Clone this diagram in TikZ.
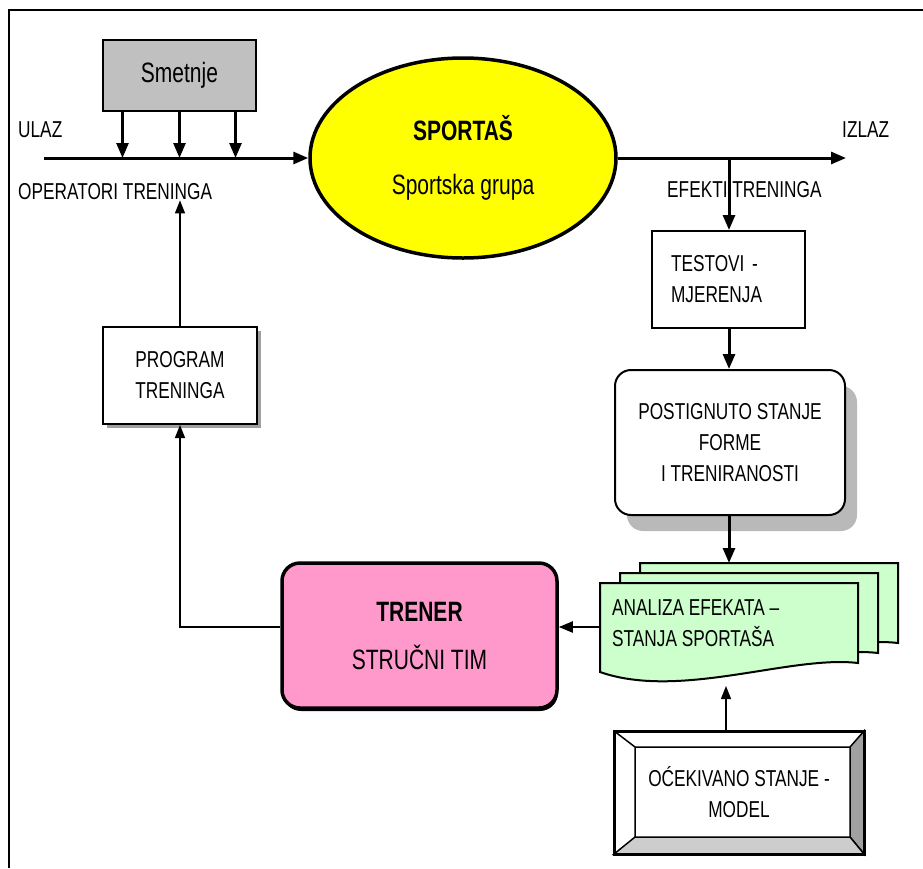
\documentclass[tikz,border=0pt]{standalone}
\usepackage{fontspec}
\setmainfont[FakeStretch=0.75]{Liberation Sans}
\usepackage{tikz}
\usetikzlibrary{positioning}
\usetikzlibrary{arrows.meta}
\usetikzlibrary{shapes.geometric}
\usetikzlibrary{shadows}
\definecolor{athleteyellow}{RGB}{255,255,0}
\definecolor{coachpink}{RGB}{255,153,204}
\definecolor{sheetgreen}{RGB}{204,255,204}
\definecolor{noisegray}{RGB}{192,192,192}
\definecolor{shadowgray}{RGB}{185,185,185}
\definecolor{bevelgray}{RGB}{160,160,160}
\definecolor{bevellight}{RGB}{205,205,205}
\newcommand{\bigtext}{\fontsize{28}{34}\selectfont}
\tikzset{
  plainbox/.style={rectangle,draw,line width=2pt,fill=white,
                   align=center,inner sep=0pt},
  noisebox/.style={plainbox,fill=noisegray,font=\bigtext,
                   minimum width=153pt,minimum height=71pt},
  athlete/.style={ellipse,draw,line width=3.5pt,fill=athleteyellow,
                  align=center,font=\bigtext,inner sep=0pt,
                  minimum width=306pt,minimum height=200pt},
  statebox/.style={plainbox,rounded corners=16pt,
                   minimum width=230pt,minimum height=145pt,
                   drop shadow={shadow xshift=12pt,shadow yshift=-16pt,
                                fill=shadowgray,opacity=1}},
  coachbox/.style={plainbox,rounded corners=18pt,line width=3.5pt,
                   fill=coachpink,font=\bigtext,
                   minimum width=275pt,minimum height=145pt,
                   drop shadow={shadow xshift=1pt,shadow yshift=-3pt,
                                fill=black,opacity=1}},
  progbox/.style={plainbox,minimum width=154pt,minimum height=97pt,
                  drop shadow={shadow xshift=4pt,shadow yshift=-4pt,
                               fill=bevelgray,opacity=1}},
  bevelbox/.style={plainbox,line width=2.5pt,
                   minimum width=248pt,minimum height=121pt},
  sheet/.style={draw,line width=2pt,fill=sheetgreen},
  tag/.style={anchor=west,inner sep=0pt,align=left},
  flow/.style={line width=3pt,-{Triangle[length=15pt,width=12pt]}},
  dropflow/.style={line width=2.5pt,-{Triangle[length=15pt,width=12pt]}},
  midflow/.style={line width=2pt,-{Triangle[length=14pt,width=11pt]}},
  thinflow/.style={line width=1.3pt,-{Triangle[length=13pt,width=10pt]}},
}
\begin{document}
\begin{tikzpicture}[x=1pt,y=-1pt,font=\fontsize{23}{31}\selectfont]
  \useasboundingbox (0,0) rectangle (923,868);
  \draw[line width=2pt] (9,868) -- (9,10) -- (923,10);

  \node[noisebox] (smet)  at (179.5,75.5) {Smetnje};
  \node[athlete]  (sport) at (463,158) {\bfseries SPORTAŠ\\[20pt]Sportska grupa};
  \coordinate (inL)  at (44,158);
  \coordinate (outR) at (846,158);
  \coordinate (efx)  at (729,158);

  \node[tag] (ulaz)  at (18,130)  {ULAZ};
  \node[tag] (oper)  at (18,192)  {OPERATORI TRENINGA};
  \node[tag] (izlaz) at (842,130) {IZLAZ};
  \node[tag] (efekt) at (667,190) {EFEKTI TRENINGA};

  \node[plainbox,text width=115pt,inner xsep=19pt,align=left,
        minimum height=97pt] (test) at (728.5,279.5) {TESTOVI -\\MJERENJA};
  \node[statebox] (post) at (730,442.5)
      {POSTIGNUTO STANJE\\FORME\\I TRENIRANOSTI};

  % stacked analysis sheets
  \foreach \s in {2,1,0}
    \draw[sheet,shift={(20*\s,-10*\s)}]
      (600,583) -- (858,583) -- (858,663)
      .. controls (790,655) and (680,700) .. (600,672) -- cycle;
  \node[tag] (anal) at (612,623) {ANALIZA EFEKATA –\\STANJA SPORTAŠA};
  \coordinate (analN) at (729,563);
  \coordinate (analW) at (600,627);
  \coordinate (analS) at (726,686);

  \node[bevelbox] (ocek) at (739,792.5) {OĆEKIVANO STANJE -\\MODEL};
  \filldraw[line width=1.5pt,fill=bevelgray]
      (ocek.north east) -- (ocek.south east) -- (850,837) -- (850,747) -- cycle;
  \filldraw[line width=1.5pt,fill=bevellight]
      (ocek.south west) -- (ocek.south east) -- (850,837) -- (635,837) -- cycle;
  \draw[line width=1.5pt] (ocek.north west) -- (635,747) -- (850,747)
      (635,747) -- (635,837);
  \draw[line width=2.5pt] (ocek.south west) rectangle (ocek.north east);

  \node[coachbox] (trener) at (419.5,635.5) {\bfseries TRENER\\[14pt]STRUČNI TIM};
  \node[progbox]  (prog)   at (180,375.5) {PROGRAM\\TRENINGA};

  \draw[flow] (inL) -- (sport.west);
  \foreach \dx [count=\i] in {-57,0,56} {
    \coordinate (drop\i) at ([xshift=\dx pt]smet.south);
    \draw[dropflow] (drop\i) -- (drop\i |- inL);
  }
  \draw[flow] (sport.east) -- (outR);
  \draw[flow] (efx) -- (efx |- test.north);
  \draw[flow] (efx |- test.south) -- (efx |- post.north);
  \draw[flow] (efx |- post.south) -- (analN);
  \draw[thinflow] (ocek.north -| analS) -- (analS);
  \draw[midflow] (analW) -- (trener.east |- analW);
  \draw[thinflow] (trener.west |- analW) -| (prog.south);
  \draw[thinflow] (prog.north) -- (prog.north |- oper.south);
\end{tikzpicture}
\end{document}
